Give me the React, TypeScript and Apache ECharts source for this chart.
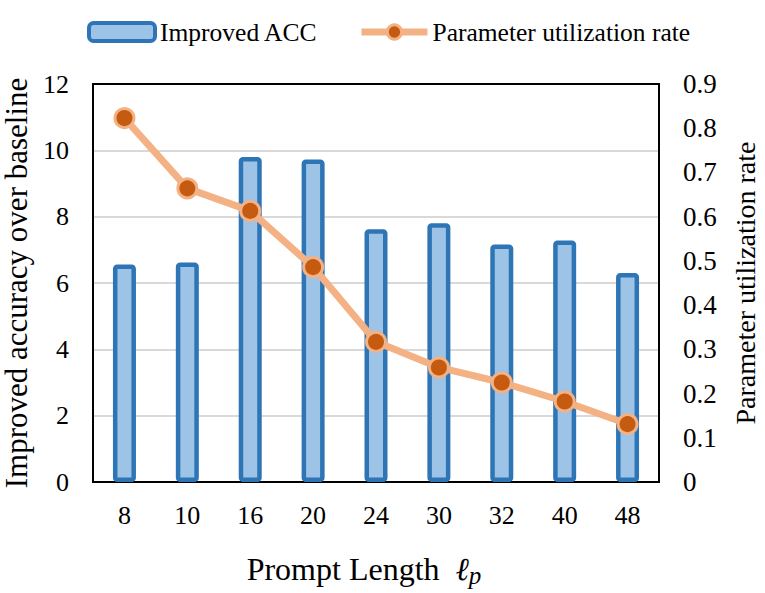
import React, { useEffect, useRef } from "react";
import * as echarts from "echarts";

const categories = ["8", "10", "16", "20", "24", "30", "32", "40", "48"];
const improvedAcc = [6.56, 6.62, 9.8, 9.72, 7.62, 7.8, 7.16, 7.28, 6.3];
const utilRate = [0.823, 0.664, 0.613, 0.486, 0.317, 0.259, 0.225, 0.182, 0.131];
const leftTicks = { min: 0, max: 12, interval: 2 };
const rightTicks = { min: 0, max: 0.9, interval: 0.1 };

const FONT = "Liberation Serif";

export default function App() {
  const ref = useRef<HTMLDivElement>(null);
  useEffect(() => {
    if (!ref.current) return;
    const chart = echarts.init(ref.current, undefined, { renderer: "svg" });
    const blackLine = { show: true, onZero: false, lineStyle: { color: "#000", width: 2 } };
    chart.setOption({
      animation: false,
      backgroundColor: "#ffffff",
      textStyle: { fontFamily: FONT, color: "#000" },
      legend: {
        left: 82,
        top: 14,
        itemGap: 40,
        itemWidth: 66,
        itemHeight: 18,
        textStyle: { fontFamily: FONT, fontSize: 25.5, color: "#000" },
        data: [
          {
            name: "Improved ACC",
            itemStyle: { color: "#9DC3E6", borderColor: "#2E75B6", borderWidth: 4 },
          },
          {
            name: "Parameter utilization rate",
            lineStyle: { color: "#F4B183", width: 7 },
            itemStyle: { color: "#C55A11", borderColor: "#F4B183", borderWidth: 3 },
          },
        ],
      },
      grid: {
        left: 93,
        right: 106,
        top: 84,
        bottom: 111,
        containLabel: false,
        outerBoundsMode: "none",
        show: true,
        borderColor: "#000",
        borderWidth: 2,
        backgroundColor: "transparent",
      },
      xAxis: [
        {
          type: "category",
          data: categories,
          axisLine: blackLine,
          axisTick: { show: false },
          axisLabel: { fontFamily: FONT, fontSize: 26, color: "#000", margin: 20 },
          name: "{a|Prompt Length  }{b|ℓ}{c|p}",
          nameLocation: "middle",
          nameGap: 67,
          nameTextStyle: {
            fontFamily: FONT,
            fontSize: 32,
            color: "#000",
            rich: {
              a: { fontFamily: FONT, fontSize: 32, color: "#000" },
              b: { fontFamily: FONT, fontSize: 32, fontStyle: "italic", color: "#000" },
              c: {
                fontFamily: FONT,
                fontSize: 25,
                fontStyle: "italic",
                color: "#000",
                padding: [14, 24, 0, 0],
              },
            },
          },
        },
        {
          type: "category",
          data: categories,
          position: "top",
          axisLine: blackLine,
          axisTick: { show: false },
          axisLabel: { show: false },
        },
      ],
      yAxis: [
        {
          type: "value",
          position: "left",
          min: leftTicks.min,
          max: leftTicks.max,
          interval: leftTicks.interval,
          axisLine: blackLine,
          axisTick: { show: false },
          axisLabel: { fontFamily: FONT, fontSize: 26, color: "#000", margin: 24 },
          splitLine: { lineStyle: { color: "#D9D9D9", width: 2 } },
          name: "Improved accuracy over baseline",
          nameLocation: "middle",
          nameRotate: 90,
          nameGap: 68,
          nameTextStyle: { fontFamily: FONT, fontSize: 31, color: "#000", verticalAlign: "middle" },
        },
        {
          type: "value",
          position: "right",
          min: rightTicks.min,
          max: rightTicks.max,
          interval: rightTicks.interval,
          axisLine: blackLine,
          axisTick: { show: false },
          axisLabel: {
            fontFamily: FONT,
            fontSize: 27,
            color: "#000",
            margin: 24,
            formatter: (v: number) => (v === 0 ? "0" : v.toFixed(1)),
          },
          splitLine: { show: false },
          name: "Parameter utilization rate",
          nameLocation: "middle",
          nameRotate: 90,
          nameGap: 86,
          nameTextStyle: { fontFamily: FONT, fontSize: 28, color: "#000", verticalAlign: "middle" },
        },
      ],
      series: [
        {
          name: "Improved ACC",
          type: "bar",
          data: improvedAcc,
          yAxisIndex: 0,
          barWidth: 23,
          itemStyle: {
            color: "#9DC3E6",
            borderColor: "#2E75B6",
            borderWidth: 4.5,
            borderRadius: 2,
          },
        },
        {
          name: "Parameter utilization rate",
          type: "line",
          data: utilRate,
          yAxisIndex: 1,
          symbol: "circle",
          symbolSize: 19,
          lineStyle: { color: "#F4B183", width: 7 },
          itemStyle: { color: "#C55A11", borderColor: "#F4B183", borderWidth: 3 },
          z: 5,
        },
      ],
    });
    return () => chart.dispose();
  }, []);
  return (
    <div
      ref={ref}
      style={{ position: "fixed", left: 0, top: 0, width: 765, height: 593, background: "#fff" }}
    />
  );
}
